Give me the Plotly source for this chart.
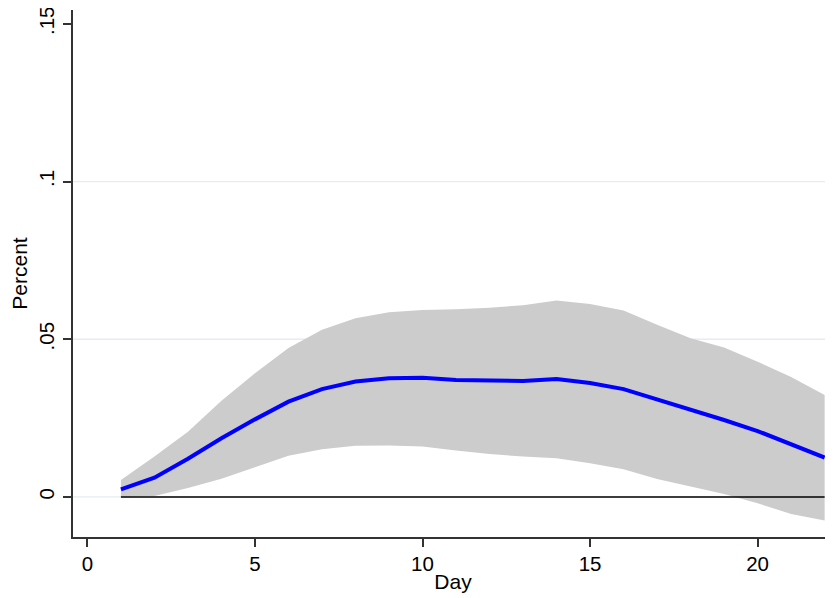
import plotly.graph_objects as go

day = list(range(1, 23))
mean = [0.0024, 0.0061, 0.0121, 0.0186, 0.0246, 0.0302, 0.0342, 0.0366, 0.0376, 0.0378,
        0.0371, 0.0369, 0.0368, 0.0374, 0.0361, 0.0342, 0.0310, 0.0276, 0.0244, 0.0209,
        0.0167, 0.0125]
upper = [0.0054, 0.0128, 0.0207, 0.0305, 0.0392, 0.0472, 0.0530, 0.0567, 0.0586, 0.0593,
         0.0595, 0.0600, 0.0608, 0.0623, 0.0612, 0.0591, 0.0546, 0.0503, 0.0474, 0.0429,
         0.0380, 0.0323]
lower = [0.0001, 0.0003, 0.0028, 0.0058, 0.0094, 0.0131, 0.0151, 0.0162, 0.0163, 0.0160,
         0.0147, 0.0136, 0.0128, 0.0123, 0.0107, 0.0088, 0.0057, 0.0033, 0.0009, -0.0020,
         -0.0054, -0.0075]
zero = [0.0] * len(day)

y_ticks = [0, 0.05, 0.1, 0.15]
y_labels = ["0", ".05", ".1", ".15"]
x_ticks = [0, 5, 10, 15, 20]
grid_vals = [0, 0.05, 0.1]

fig = go.Figure()
fig.add_trace(go.Scatter(x=day, y=lower, mode="lines", line=dict(width=0, color="#cccccc"),
                         showlegend=False, hoverinfo="skip"))
fig.add_trace(go.Scatter(x=day, y=upper, mode="lines", line=dict(width=0, color="#cccccc"),
                         fill="tonexty", fillcolor="#cccccc", showlegend=False, hoverinfo="skip"))

for v in grid_vals:
    fig.add_hline(y=v, line=dict(color="#e6ecf0", width=1.3), layer="below")

fig.add_trace(go.Scatter(x=day, y=zero, mode="lines", line=dict(color="black", width=1.6),
                         showlegend=False))
fig.add_trace(go.Scatter(x=day, y=mean, mode="lines", line=dict(color="#0000ff", width=4),
                         showlegend=False))

fam = "Liberation Sans, Arial, sans-serif"
font = dict(family=fam, size=20.5, color="black")
title_font = dict(family=fam, size=21, color="black")
fig.update_layout(
    width=825, height=590,
    margin=dict(l=65, r=0, t=2, b=61),
    plot_bgcolor="white", paper_bgcolor="white",
    font=font,
    showlegend=False,
)
fig.update_xaxes(
    range=[-0.43, 22.25], tickvals=x_ticks, showgrid=False, zeroline=False,
    showline=True, linecolor="#333333", linewidth=1.5, automargin=False,
    ticks="outside", ticklen=8, tickwidth=1.5, tickcolor="#333333",
    title=dict(text="Day", standoff=0, font=title_font),
    tickfont=font,
)
fig.update_yaxes(
    range=[-0.0127, 0.1544], tickvals=y_ticks, ticktext=y_labels, tickangle=-90,
    showgrid=False, zeroline=False, automargin=False,
    showline=True, linecolor="#333333", linewidth=1.5,
    ticks="outside", ticklen=8, tickwidth=1.5, tickcolor="#333333",
    ticklabelstandoff=1, ticklabeloverflow="allow",
    title=dict(text="Percent", standoff=3, font=title_font),
    tickfont=font,
)

fig.write_html("out.html")
